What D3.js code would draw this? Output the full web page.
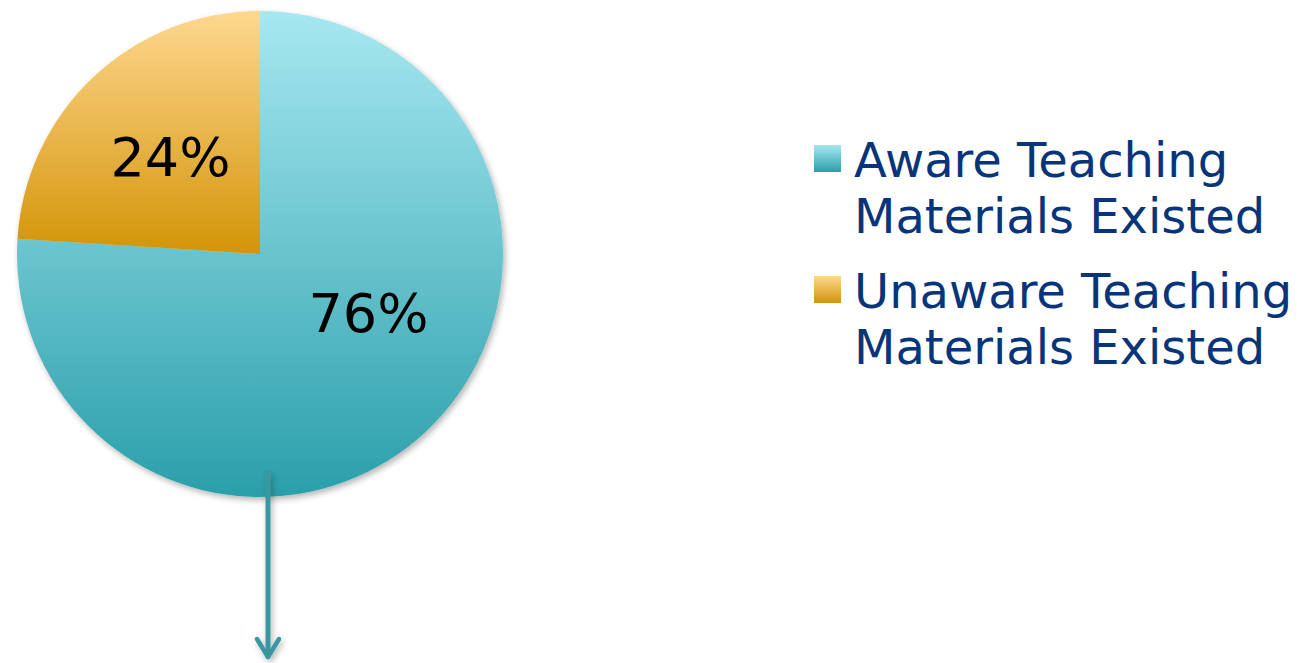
<!DOCTYPE html>
<html>
<head>
<meta charset="utf-8">
<script src="https://cdn.jsdelivr.net/npm/d3@7"></script>
<style>
  html, body { margin: 0; padding: 0; background: #ffffff; }
  svg { display: block; }
</style>
</head>
<body>
<svg id="chart" width="1308" height="663"></svg>
<script>
// Awareness of existing teaching materials
const categories = ["Aware Teaching Materials Existed", "Unaware Teaching Materials Existed"];
const legendLines = [["Aware Teaching", "Materials Existed"], ["Unaware Teaching", "Materials Existed"]];
const values = [76, 24];
const valueLabels = ["76%", "24%"];

const gradientStops = [
  ["#a7e8f1", "#2a9faa"],
  ["#fed890", "#d39407"]
];

const W = 1308, H = 663;
const cx = 260, cy = 254, R = 243;

const svg = d3.select("#chart");
const defs = svg.append("defs");

gradientStops.forEach((stops, i) => {
  const g = defs.append("linearGradient")
    .attr("id", "grad" + i)
    .attr("x1", 0).attr("y1", 0).attr("x2", 0).attr("y2", 1);
  g.append("stop").attr("offset", "0%").attr("stop-color", stops[0]);
  g.append("stop").attr("offset", "100%").attr("stop-color", stops[1]);
});

// soft drop shadow; the arrow needs a page-sized region since its line has no width
function addShadow(id, region) {
  const f = defs.append("filter").attr("id", id);
  Object.entries(region).forEach(([k, v]) => f.attr(k, v));
  f.append("feGaussianBlur").attr("in", "SourceAlpha").attr("stdDeviation", 3).attr("result", "b");
  f.append("feOffset").attr("in", "b").attr("dx", 2).attr("dy", 3).attr("result", "o");
  f.append("feComponentTransfer").attr("in", "o").attr("result", "s")
    .append("feFuncA").attr("type", "linear").attr("slope", 0.3);
  const m = f.append("feMerge");
  m.append("feMergeNode").attr("in", "s");
  m.append("feMergeNode").attr("in", "SourceGraphic");
}
addShadow("pieShadow", { x: "-10%", y: "-10%", width: "125%", height: "125%" });
addShadow("arrowShadow", { filterUnits: "userSpaceOnUse", x: 0, y: 0, width: W, height: H });

const pie = d3.pie().sort(null).value(d => d)(values);
const arc = d3.arc().innerRadius(0).outerRadius(R);

const g = svg.append("g").attr("transform", `translate(${cx},${cy})`);

const slices = g.append("g").attr("filter", "url(#pieShadow)");
slices.selectAll("path")
  .data(pie)
  .join("path")
  .attr("d", arc)
  .attr("fill", (d, i) => `url(#grad${i})`);

// down arrow leaving the bottom of the pie
const ax = 268, aTop = cy + R - 26, aTip = 659;
const arrow = svg.append("g").attr("filter", "url(#arrowShadow)")
  .attr("stroke", "#3a979f")
  .attr("fill", "none")
  .attr("stroke-linecap", "round")
  .attr("stroke-linejoin", "round");
arrow.append("line")
  .attr("x1", ax).attr("x2", ax)
  .attr("y1", aTop).attr("y2", aTip - 2)
  .attr("stroke-width", 5)
  .attr("stroke-linecap", "butt");
arrow.append("path")
  .attr("d", d3.line()([[ax - 11, aTip - 20], [ax, aTip - 2], [ax + 11, aTip - 20]]))
  .attr("stroke-width", 4.5);

// value labels, nudged from the slice centroids
const labelArc = d3.arc().innerRadius(R * 0.55).outerRadius(R * 0.55);
const labelShift = [[17, -38], [2, 1]];
g.selectAll("text.val")
  .data(pie)
  .join("text")
  .attr("class", "val")
  .attr("x", (d, i) => labelArc.centroid(d)[0] + labelShift[i][0])
  .attr("y", (d, i) => labelArc.centroid(d)[1] + labelShift[i][1])
  .attr("text-anchor", "middle")
  .attr("dominant-baseline", "central")
  .attr("font-family", "'DejaVu Sans', Verdana, sans-serif")
  .attr("font-size", 54)
  .attr("fill", "#000000")
  .text((d, i) => valueLabels[i]);

// legend
const legend = svg.append("g").attr("transform", "translate(814,145)");
const item = legend.selectAll("g.item")
  .data(categories)
  .join("g")
  .attr("class", "item")
  .attr("transform", (d, i) => `translate(0,${i * 131})`);

item.append("rect")
  .attr("width", 27).attr("height", 27)
  .attr("fill", (d, i) => `url(#grad${i})`);

item.each(function(d, i) {
  const t = d3.select(this).append("text")
    .attr("font-family", "'DejaVu Sans', Verdana, sans-serif")
    .attr("font-size", 48)
    .attr("fill", "#08357a");
  legendLines[i].forEach((line, j) => {
    t.append("tspan")
      .attr("x", 40)
      .attr("y", 32 + j * 56)
      .text(line);
  });
});
</script>
</body>
</html>
